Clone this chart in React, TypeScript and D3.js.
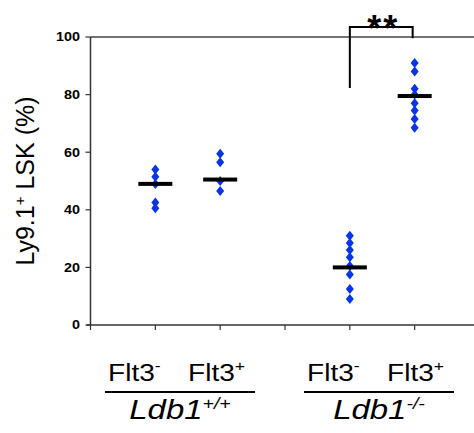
import * as d3 from 'd3';

// values (% Ly9.1+ LSK per mouse)
const groupPos = [1, 2, 4, 5];
const wtFlt3Neg = [54, 51.5, 49, 42.5, 40.5];
const wtFlt3Pos = [59.5, 56.5, 50, 46.5];
const koFlt3Neg = [31, 28.5, 26, 23.5, 20.5, 17.5, 12.5, 9];
const koFlt3Pos = [91, 88, 82, 80, 77, 74.5, 71.5, 68.5];
const groupMeans = [49, 50.5, 20, 79.5];
const yTicks = [0, 20, 40, 60, 80, 100];
const xTicks = [0, 1, 2, 3, 4, 5, 6];
const flt3Labels = ['-', '+'];
const genotypes = ['+/+', '-/-'];

const groups = [wtFlt3Neg, wtFlt3Pos, koFlt3Neg, koFlt3Pos];

const W = 474;
const H = 433;
const BLUE = '#0735e3';

const x = d3.scaleLinear().domain([0, 6]).range([90.5, 479.5]);
const y = d3.scaleLinear().domain([0, 100]).range([325, 37]);

// blue diamond marker, a bit wider than d3.symbolDiamond
const diamond = (cx: number, cy: number) => {
  const p = d3.path();
  p.moveTo(cx, cy - 5);
  p.lineTo(cx + 4, cy);
  p.lineTo(cx, cy + 5);
  p.lineTo(cx - 4, cy);
  p.closePath();
  return p.toString();
};

const font = 'Liberation Sans, Arial, sans-serif';

export default function App() {
  const bracketTop = y(103.5);
  return (
    <svg
      width={W}
      height={H}
      style={{ position: 'absolute', left: 0, top: 0, background: '#fff' }}
    >
      {/* frame */}
      <line x1={x(0)} x2={W} y1={y(100)} y2={y(100)} stroke="#444" strokeWidth={1.5} />
      <line x1={x(0)} x2={x(0)} y1={y(100)} y2={y(0)} stroke="#333" strokeWidth={1.5} />
      <line x1={x(0) - 4} x2={W} y1={y(0)} y2={y(0)} stroke="#333" strokeWidth={1.5} />

      {xTicks.map(t => (
        <line key={t} x1={x(t)} x2={x(t)} y1={y(0)} y2={y(0) + 5} stroke="#333" strokeWidth={1.2} />
      ))}

      {yTicks.map(t => (
        <g key={t}>
          <line x1={x(0) - 5} x2={x(0)} y1={y(t)} y2={y(t)} stroke="#333" strokeWidth={1.2} />
          <text
            transform={`translate(80,${y(t)}) scale(1.2,1)`}
            dy="0.36em"
            textAnchor="end"
            fontFamily={font}
            fontWeight="bold"
            fontSize={12}
          >
            {t}
          </text>
        </g>
      ))}

      {/* y axis title */}
      <text
        transform={`translate(34,${(y(0) + y(100)) / 2}) rotate(-90)`}
        textAnchor="middle"
        fontFamily={font}
        fontSize={25}
      >
        Ly9.1<tspan fontSize={15} dy={-9}>+</tspan>
        <tspan dy={9}> LSK (%)</tspan>
      </text>

      {/* points */}
      {groups.map((vals, gi) =>
        vals.map((v, i) => (
          <path key={`${gi}-${i}`} d={diamond(x(groupPos[gi]), y(v))} fill={BLUE} />
        ))
      )}

      {/* mean bars */}
      {groupMeans.map((m, gi) => (
        <rect
          key={gi}
          x={x(groupPos[gi]) - 17}
          y={y(m) - 2}
          width={34}
          height={4}
          fill="#000"
        />
      ))}

      {/* significance bracket */}
      <path
        d={`M${x(4)},${y(82.3)}V${bracketTop}H${x(5) - 2}V${y(99.6)}`}
        fill="none"
        stroke="#000"
        strokeWidth={2}
      />
      <text
        x={(x(4) + x(5)) / 2 + 1}
        y={bracketTop + 14}
        textAnchor="middle"
        fontFamily={font}
        fontWeight="bold"
        fontSize={36}
        letterSpacing={2}
      >
        **
      </text>

      {/* genotype labels */}
      {genotypes.map((geno, gi) => {
        const cx = gi === 0 ? 180 : 379;
        return (
          <g key={geno}>
            {flt3Labels.map((s, si) => (
              <text
                key={s}
                transform={`translate(${cx - 72 + si * 80},381) scale(1.17,1)`}
                fontFamily={font}
                fontSize={24}
              >
                Flt3<tspan fontSize={15} dy={-10}>{s}</tspan>
              </text>
            ))}
            <line x1={cx - 75} x2={cx + 75} y1={392} y2={392} stroke="#000" strokeWidth={2} />
            <text
              transform={`translate(${cx},419) scale(1.22,1)`}
              textAnchor="middle"
              fontFamily={font}
              fontStyle="italic"
              fontSize={27}
            >
              Ldb1<tspan fontSize={16} dy={-10}>{geno}</tspan>
            </text>
          </g>
        );
      })}
    </svg>
  );
}
